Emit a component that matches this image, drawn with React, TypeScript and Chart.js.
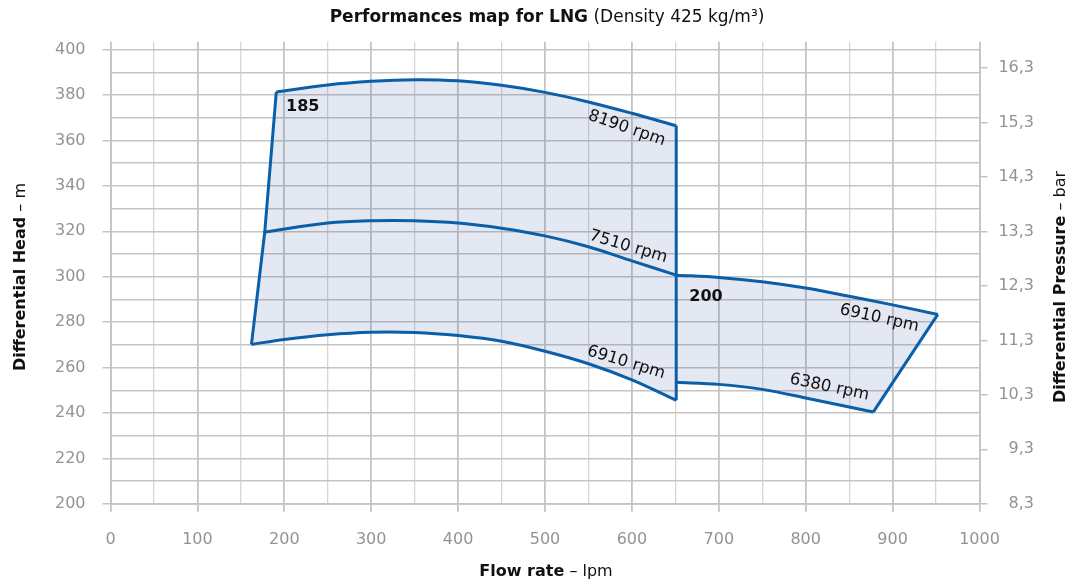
import React, { useEffect, useRef } from 'react';
import { Chart, registerables } from 'chart.js';

Chart.register(...registerables);

// ---- data (flow rate in lpm, differential head in m) ----
const flowLeftEdge = [162.2, 177.5, 190.8];
const headLeftEdge = [270.2, 319.7, 381.4];

const flow8190 = [190.8, 250, 300, 350, 400, 450, 500, 550, 600, 651];
const head8190 = [381.4, 384.5, 386.1, 386.8, 386.3, 384.3, 381.2, 377.0, 372.0, 366.5];

const flow7510 = [177.5, 250, 300, 350, 400, 450, 500, 550, 600, 651];
const head7510 = [319.7, 323.7, 324.7, 324.7, 323.7, 321.4, 318.0, 313.2, 307.0, 300.7];

const flow6910a = [162.2, 200, 250, 300, 350, 400, 450, 500, 550, 600, 651];
const head6910a = [270.2, 272.4, 274.5, 275.6, 275.5, 274.1, 271.6, 267.2, 261.7, 254.6, 245.6];

const flowDivider = [651, 651];
const headDivider = [366.5, 245.6];

const flow6910b = [651, 700, 750, 800, 850, 900, 952];
const head6910b = [300.7, 299.7, 297.8, 295.0, 291.4, 287.6, 283.4];

const flow6380 = [651, 700, 750, 800, 850, 877.7];
const head6380 = [253.5, 252.6, 250.4, 246.6, 242.6, 240.4];

const flowRightEdge = [877.7, 952];
const headRightEdge = [240.4, 283.4];

const pressureTicks = [8.3, 9.3, 10.3, 11.3, 12.3, 13.3, 14.3, 15.3, 16.3];
const metresPerBar = 23.99;

const curveLabels = ['8190 rpm', '7510 rpm', '6910 rpm', '6910 rpm', '6380 rpm'];
const curveLabelFlow = [594.0, 595.9, 593.2, 884.7, 827.2];
const curveLabelHead = [365.4, 313.2, 262.2, 281.7, 251.3];
const curveLabelAngle = [19, 16.5, 17, 12.5, 12];

const modelLabels = ['185', '200'];
const modelLabelFlow = [202, 666];
const modelLabelHead = [374.8, 291.2];

const titleBold = 'Performances map for LNG';
const titleNormal = ' (Density 425 kg/m³)';
const xTitleBold = 'Flow rate';
const xTitleNormal = ' – lpm';
const yTitleBold = 'Differential Head';
const yTitleNormal = ' – m';
const y2TitleBold = 'Differential Pressure';
const y2TitleNormal = ' – bar';

const FONT = '"DejaVu Sans", "Noto Sans", sans-serif';
const LINE = '#0b5ea8';
const FILL = 'rgba(30, 63, 155, 0.12)';
const MAJOR = '#c4c4c4';
const MINOR = '#d6d6d6';
const TICK_TEXT = '#939393';

function pts(xs: number[], ys: number[]) {
  return xs.map((x, i) => ({ x, y: ys[i] }));
}

function drawMixed(
  ctx: CanvasRenderingContext2D,
  parts: [string, string][],
  x: number,
  y: number,
  rot: number,
  size: number
) {
  ctx.save();
  ctx.translate(x, y);
  ctx.rotate(rot);
  ctx.textBaseline = 'middle';
  ctx.textAlign = 'left';
  ctx.fillStyle = '#111';
  const widths = parts.map(([t, w]) => {
    ctx.font = `${w} ${size}px ${FONT}`;
    return ctx.measureText(t).width;
  });
  const total = widths.reduce((a, b) => a + b, 0);
  let cur = -total / 2;
  parts.forEach(([t, w], i) => {
    ctx.font = `${w} ${size}px ${FONT}`;
    ctx.fillText(t, cur, 0);
    cur += widths[i];
  });
  ctx.restore();
}

const textPlugin = {
  id: 'mapTexts',
  afterDatasetsDraw(chart: any) {
    const { ctx, scales } = chart;
    const xs = scales.x;
    const ys = scales.y;
    ctx.save();
    ctx.fillStyle = '#111';
    ctx.textBaseline = 'middle';
    curveLabels.forEach((t, i) => {
      ctx.save();
      ctx.translate(xs.getPixelForValue(curveLabelFlow[i]), ys.getPixelForValue(curveLabelHead[i]));
      ctx.rotate((curveLabelAngle[i] * Math.PI) / 180);
      ctx.font = `normal 16.5px ${FONT}`;
      ctx.textAlign = 'center';
      ctx.fillText(t, 0, 0);
      ctx.restore();
    });
    modelLabels.forEach((t, i) => {
      ctx.font = `bold 16px ${FONT}`;
      ctx.textAlign = 'left';
      ctx.fillText(t, xs.getPixelForValue(modelLabelFlow[i]), ys.getPixelForValue(modelLabelHead[i]));
    });
    ctx.restore();
  },
  afterDraw(chart: any) {
    const { ctx, chartArea } = chart;
    const cx = (chartArea.left + chartArea.right) / 2;
    drawMixed(ctx, [[titleBold, 'bold'], [titleNormal, 'normal']], cx + 2, 18, 0, 17);
    drawMixed(ctx, [[xTitleBold, 'bold'], [xTitleNormal, 'normal']], cx + 1, 572, 0, 16);
    drawMixed(ctx, [[yTitleBold, 'bold'], [yTitleNormal, 'normal']], 21, 277, -Math.PI / 2, 16);
    drawMixed(ctx, [[y2TitleBold, 'bold'], [y2TitleNormal, 'normal']], 1061, 287, -Math.PI / 2, 16);
  },
};

export default function App() {
  const ref = useRef<HTMLCanvasElement>(null);

  useEffect(() => {
    if (!ref.current) return;
    const stroke = (data: any[], smooth: boolean) => ({
      data,
      borderColor: LINE,
      borderWidth: 3,
      pointRadius: 0,
      fill: false,
      tension: smooth ? 0.35 : 0,
      borderJoinStyle: 'miter',
      borderCapStyle: 'butt',
      order: 0,
    });
    const fillTop185 = pts(flowLeftEdge.concat(flow8190.slice(1)), headLeftEdge.concat(head8190.slice(1)));
    const fillBottom200 = pts(
      flow6380.concat([flow6910b[flow6910b.length - 1]]),
      head6380.concat([head6910b[head6910b.length - 1]])
    );

    const vGrid = (major: number) => ({
      color: (c: any) => (c.tick && c.tick.value % major === 0 ? MAJOR : MINOR),
      lineWidth: (c: any) => (c.tick && c.tick.value % major === 0 ? 1.8 : 1.3),
    });
    const tickFont = { family: FONT, size: 16, weight: 'normal' };

    const chart = new Chart(ref.current, {
      type: 'line',
      data: {
        datasets: [
          { data: pts(flow6910a, head6910a), borderWidth: 0, pointRadius: 0, fill: '+1', backgroundColor: FILL, order: 5 } as any,
          { data: fillTop185, borderWidth: 0, pointRadius: 0, fill: false, order: 5 } as any,
          { data: fillBottom200, borderWidth: 0, pointRadius: 0, fill: '+1', backgroundColor: FILL, order: 5 } as any,
          { data: pts(flow6910b, head6910b), borderWidth: 0, pointRadius: 0, fill: false, order: 5 } as any,
          stroke(pts(flowLeftEdge, headLeftEdge), false),
          stroke(pts(flow8190, head8190), true),
          stroke(pts(flow7510, head7510), true),
          stroke(pts(flow6910a, head6910a), true),
          stroke(pts(flowDivider, headDivider), false),
          stroke(pts(flow6910b, head6910b), true),
          stroke(pts(flow6380, head6380), true),
          stroke(pts(flowRightEdge, headRightEdge), false),
        ],
      },
      options: {
        animation: false,
        responsive: false,
        layout: { padding: { left: 0, top: 0, bottom: 0, right: 39 } },
        plugins: { legend: { display: false }, tooltip: { enabled: false }, title: { display: false } },
        scales: {
          x: {
            type: 'linear',
            position: 'bottom',
            min: 0,
            max: 1000,
            afterFit: (s: any) => { s.height = 78.2; },
            ticks: {
              stepSize: 50,
              autoSkip: false,
              maxRotation: 0,
              padding: 18,
              color: TICK_TEXT,
              font: tickFont,
              callback: (v: any) => (v % 100 === 0 ? String(v) : ''),
            },
            grid: {
              ...vGrid(100),
              tickLength: 8,
              tickColor: (c: any) => (c.tick && c.tick.value % 100 === 0 ? MAJOR : 'rgba(0,0,0,0)'),
            },
            border: { display: true, color: MAJOR, width: 1.8 },
          },
          x2: {
            type: 'linear',
            position: 'top',
            min: 0,
            max: 1000,
            afterFit: (s: any) => { s.height = 49.7; },
            ticks: { stepSize: 50, display: false, autoSkip: false },
            grid: {
              ...vGrid(100),
              drawOnChartArea: false,
              tickLength: 8,
              tickColor: (c: any) => (c.tick && c.tick.value % 100 === 0 ? MAJOR : MINOR),
            },
            border: { display: false },
          },
          y: {
            type: 'linear',
            position: 'left',
            min: 200,
            max: 400,
            afterFit: (s: any) => { s.width = 110.5; },
            ticks: {
              stepSize: 10,
              autoSkip: false,
              padding: 17,
              color: TICK_TEXT,
              font: tickFont,
              callback: (v: any) => (v % 20 === 0 ? String(v) : ''),
            },
            grid: {
              color: MAJOR,
              lineWidth: 1.5,
              tickLength: 8,
              tickColor: (c: any) => (c.tick && c.tick.value % 20 === 0 ? MAJOR : 'rgba(0,0,0,0)'),
            },
            border: { display: true, color: MAJOR, width: 1.8 },
          },
          y2: {
            type: 'linear',
            position: 'right',
            min: pressureTicks[0],
            max: pressureTicks[0] + 200 / metresPerBar,
            afterFit: (s: any) => { s.width = 54.5; },
            afterBuildTicks: (s: any) => { s.ticks = pressureTicks.map((v) => ({ value: v })); },
            ticks: {
              autoSkip: false,
              padding: 12,
              crossAlign: 'far',
              color: TICK_TEXT,
              font: tickFont,
              callback: (v: any) => Number(v).toFixed(1).replace('.', ','),
            },
            grid: { drawOnChartArea: false, color: MAJOR, lineWidth: 1.5, tickLength: 8, tickColor: MAJOR },
            border: { display: true, color: MAJOR, width: 1.8 },
          },
        },
      } as any,
      plugins: [textPlugin],
    });
    return () => chart.destroy();
  }, []);

  return (
    <div style={{ position: 'fixed', left: 0, top: 0, width: 1073, height: 582, background: '#fff' }}>
      <canvas ref={ref} width={1073} height={582} style={{ display: 'block', width: 1073, height: 582 }} />
    </div>
  );
}
